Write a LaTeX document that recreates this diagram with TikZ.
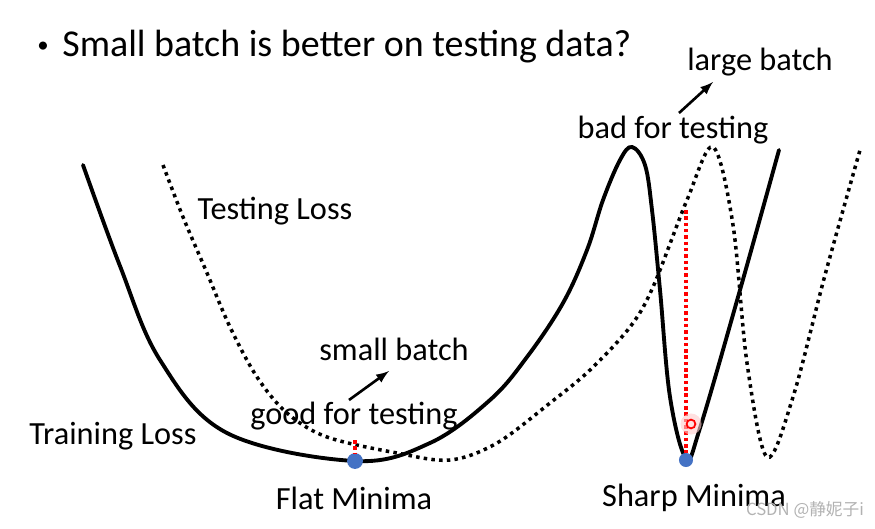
\documentclass[tikz,border=0pt]{standalone}
\usepackage{fontspec}
\setmainfont{Carlito}
\newfontfamily\cjkfont{Noto Sans CJK SC}
\definecolor{dotblue}{HTML}{4472C4}
\begin{document}
\begin{tikzpicture}[x=0.02cm, y=-0.02cm,
        lbl/.style={font=\fontsize{18.4}{22}\selectfont, inner sep=0pt},
        train/.style={line width=2.2pt, line cap=round},
        test/.style={line width=2pt, dash pattern=on 2pt off 2.4pt},
        marker/.style={red, line width=2pt, dash pattern=on 2pt off 1.6pt},
        arrow/.style={-latex, line width=1.5pt}]
    \useasboundingbox (0,0) rectangle (875,528);

    % Titel
    \node[font=\fontsize{13}{15}\selectfont, inner sep=0pt] (bullet) at (43,47) {\textbullet};
    \node[font=\fontsize{21.6}{25}\selectfont, inner sep=0pt, anchor=west] (title) at (62,47) {Small batch is better on testing data?};

    % Kurven
    \draw[train] plot[smooth, tension=0.6] coordinates {(83,165) (120,266) (160,360) (227,433) (355,461) (430,443) (490,400) (527,357) (563,303) (587,250) (603,200) (620,160) (632,147) (645,165) (652,210) (660,290) (670,397) (686,458) (700,428) (740,290) (779,150)};
    \draw[test] plot[smooth, tension=0.55] coordinates {(163,165) (183,217) (207,273) (230,327) (257,377) (287,413) (327,437) (397,453) (450,460) (497,443) (550,403) (590,370) (630,327) (653,287) (687,200) (713,147) (733,225) (747,363) (767,457) (793,397) (825,275) (860,150)};

    % Markierungen
    \coordinate (flattop) at (355,440);
    \coordinate (sharptop) at (686,210);
    \node[circle, fill=dotblue, inner sep=0pt, minimum size=9pt] (flat) at (355,461) {};
    \node[circle, fill=dotblue, inner sep=0pt, minimum size=8pt] (sharp) at (686,460) {};
    \draw[marker] (flattop) -- (flat.north);
    \draw[marker] (sharptop) -- (sharp.north);
    \node[circle, fill=red!20, opacity=0.6, inner sep=0pt, minimum size=12pt] (glow) at (691,424) {};
    \node[circle, draw=red, line width=1pt, inner sep=0pt, minimum size=5pt] (testpt) at (691,424) {};

    % Beschriftungen
    \node[lbl] (large) at (760,62) {large batch};
    \node[lbl] (bad) at (673,130) {bad for testing};
    \node[lbl] (testloss) at (275,211) {Testing Loss};
    \node[lbl] (small) at (394,349) {small batch};
    \node[lbl] (good) at (354,416) {good for testing};
    \node[lbl] (trainloss) at (113,436) {Training Loss};
    \node[lbl] (flatlbl) at (354,498) {Flat Minima};
    \node[lbl] (sharplbl) at (694,498) {Sharp Minima};
    \node[font=\cjkfont\fontsize{9.5}{11}\selectfont, text=black!30, inner sep=0pt] (mark) at (805,510) {CSDN @静妮子i};

    % Pfeile
    \coordinate (a1) at (349,400);
    \coordinate (a2) at (389,371);
    \coordinate (b1) at (679,113);
    \coordinate (b2) at (713,82);
    \draw[arrow] (a1) -- (a2);
    \draw[arrow] (b1) -- (b2);
\end{tikzpicture}
\end{document}
